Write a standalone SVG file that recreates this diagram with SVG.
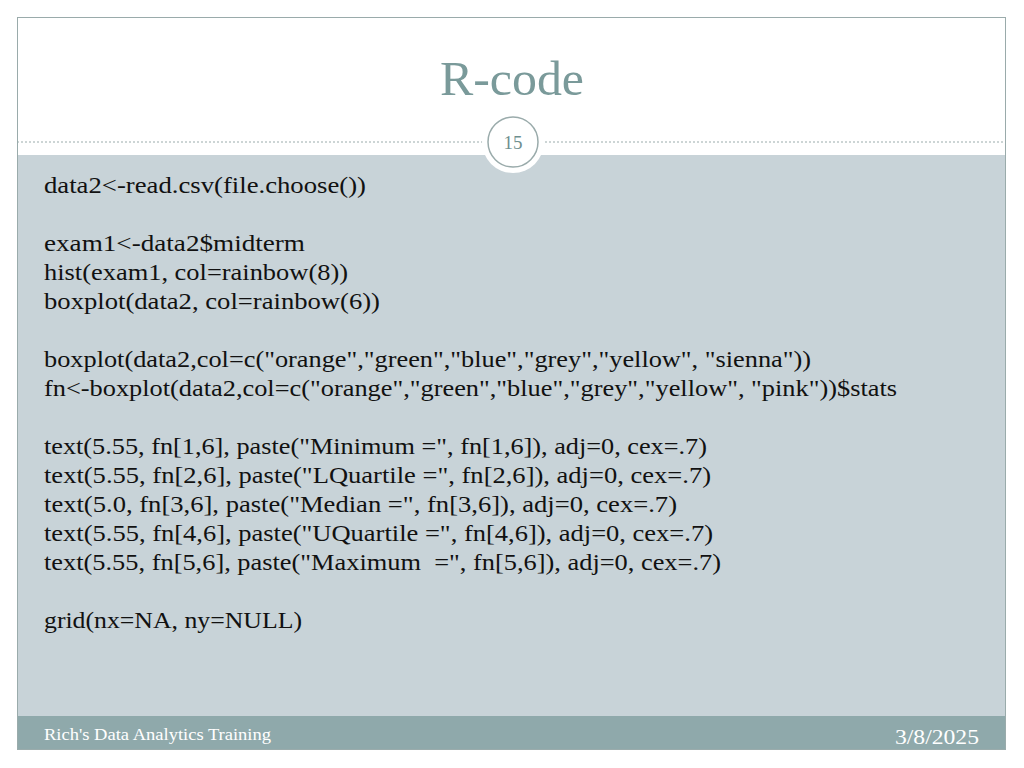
<svg xmlns="http://www.w3.org/2000/svg" width="1024" height="768" viewBox="0 0 1024 768">
<style>
.b{font-family:"Liberation Serif","DejaVu Serif",serif;font-size:23px;fill:#111}
</style>
<rect width="1024" height="768" fill="#fff"/>
<rect x="17" y="155" width="989" height="561" fill="#c8d3d8"/>
<rect x="17" y="716" width="989" height="34" fill="#8fa9ab"/>
<rect x="17.5" y="17.5" width="988" height="732" fill="none" stroke="#9aabab" stroke-width="1"/>
<line x1="17" y1="142" x2="1006" y2="142" stroke="#9aabab" stroke-width="1" stroke-dasharray="2,2"/>
<circle cx="513" cy="142" r="31" fill="#fff"/>
<circle cx="513" cy="142" r="25" fill="#fff" stroke="#9aabab" stroke-width="1.5"/>
<text x="513" y="149" text-anchor="middle" font-family="Liberation Serif,serif" font-size="19" fill="#6e8f8f">15</text>
<text x="512" y="95" text-anchor="middle" font-family="Liberation Serif,serif" font-size="48" fill="#7a9a9a" textLength="144" lengthAdjust="spacingAndGlyphs">R-code</text>
<g class="b" lengthAdjust="spacingAndGlyphs">
<text x="44" y="193" textLength="322" lengthAdjust="spacingAndGlyphs">data2&lt;-read.csv(file.choose())</text>
<text x="44" y="251" textLength="261" lengthAdjust="spacingAndGlyphs">exam1&lt;-data2$midterm</text>
<text x="44" y="280" textLength="304" lengthAdjust="spacingAndGlyphs">hist(exam1, col=rainbow(8))</text>
<text x="44" y="309" textLength="336" lengthAdjust="spacingAndGlyphs">boxplot(data2, col=rainbow(6))</text>
<text x="44" y="367" textLength="767" lengthAdjust="spacingAndGlyphs">boxplot(data2,col=c("orange","green","blue","grey","yellow", "sienna"))</text>
<text x="44" y="396" textLength="853" lengthAdjust="spacingAndGlyphs">fn&lt;-boxplot(data2,col=c("orange","green","blue","grey","yellow", "pink"))$stats</text>
<text x="44" y="454" textLength="663" lengthAdjust="spacingAndGlyphs">text(5.55, fn[1,6], paste("Minimum =", fn[1,6]), adj=0, cex=.7)</text>
<text x="44" y="483" textLength="667" lengthAdjust="spacingAndGlyphs">text(5.55, fn[2,6], paste("LQuartile =", fn[2,6]), adj=0, cex=.7)</text>
<text x="44" y="512" textLength="633" lengthAdjust="spacingAndGlyphs">text(5.0, fn[3,6], paste("Median =", fn[3,6]), adj=0, cex=.7)</text>
<text x="44" y="541" textLength="669" lengthAdjust="spacingAndGlyphs">text(5.55, fn[4,6], paste("UQuartile =", fn[4,6]), adj=0, cex=.7)</text>
<text x="44" y="570" textLength="677" lengthAdjust="spacingAndGlyphs" xml:space="preserve">text(5.55, fn[5,6], paste("Maximum  =", fn[5,6]), adj=0, cex=.7)</text>
<text x="44" y="628" textLength="258" lengthAdjust="spacingAndGlyphs">grid(nx=NA, ny=NULL)</text>
</g>
<text x="44" y="740" font-family="Liberation Serif,serif" font-size="17" fill="#fff" textLength="227" lengthAdjust="spacingAndGlyphs">Rich's Data Analytics Training</text>
<text x="895" y="744" font-family="Liberation Serif,serif" font-size="20" fill="#fff" textLength="84" lengthAdjust="spacingAndGlyphs">3/8/2025</text>
</svg>
